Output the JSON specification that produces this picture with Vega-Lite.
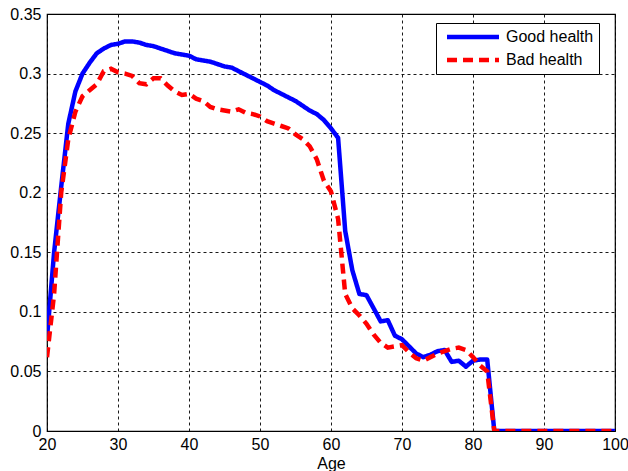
{
  "$schema": "https://vega.github.io/schema/vega-lite/v6.json",
  "width": 568,
  "height": 417,
  "autosize": {"type": "none"},
  "padding": {"left": 47, "top": 14, "right": 13, "bottom": 40},
  "background": "white",
  "config": {
    "font": "Liberation Sans",
    "view": {"stroke": "black", "strokeWidth": 1.2},
    "axis": {
      "grid": true,
      "gridColor": "black",
      "gridDash": [3, 3],
      "gridOpacity": 1,
      "gridWidth": 0.9,
      "domain": false,
      "ticks": false,
      "labelFontSize": 16,
      "labelColor": "black",
      "titleFontSize": 16,
      "titleFontWeight": "normal",
      "titleColor": "black"
    },
    "legend": {
      "orient": "none",
      "legendX": 389,
      "legendY": 9,
      "strokeColor": "black",
      "fillColor": "white",
      "padding": 5,
      "labelFontSize": 16,
      "labelColor": "black",
      "symbolType": "M-4,0H4",
      "symbolSize": 169,
      "symbolStrokeWidth": 4.5,
      "symbolOffset": 23,
      "labelOffset": 24,
      "rowPadding": 5
    }
  },
  "data": {"values": [
    {"age":20,"s":"Good health","v":0.078},{"age":21,"s":"Good health","v":0.150},{"age":22,"s":"Good health","v":0.205},{"age":23,"s":"Good health","v":0.258},{"age":24,"s":"Good health","v":0.285},{"age":25,"s":"Good health","v":0.300},{"age":26,"s":"Good health","v":0.309},{"age":27,"s":"Good health","v":0.317},{"age":28,"s":"Good health","v":0.321},{"age":29,"s":"Good health","v":0.324},
    {"age":30,"s":"Good health","v":0.325},{"age":31,"s":"Good health","v":0.327},{"age":32,"s":"Good health","v":0.327},{"age":33,"s":"Good health","v":0.326},{"age":34,"s":"Good health","v":0.324},{"age":35,"s":"Good health","v":0.323},{"age":36,"s":"Good health","v":0.321},{"age":37,"s":"Good health","v":0.319},{"age":38,"s":"Good health","v":0.317},{"age":39,"s":"Good health","v":0.316},
    {"age":40,"s":"Good health","v":0.315},{"age":41,"s":"Good health","v":0.312},{"age":42,"s":"Good health","v":0.311},{"age":43,"s":"Good health","v":0.310},{"age":44,"s":"Good health","v":0.308},{"age":45,"s":"Good health","v":0.306},{"age":46,"s":"Good health","v":0.305},{"age":47,"s":"Good health","v":0.302},{"age":48,"s":"Good health","v":0.299},{"age":49,"s":"Good health","v":0.296},
    {"age":50,"s":"Good health","v":0.293},{"age":51,"s":"Good health","v":0.290},{"age":52,"s":"Good health","v":0.286},{"age":53,"s":"Good health","v":0.283},{"age":54,"s":"Good health","v":0.280},{"age":55,"s":"Good health","v":0.277},{"age":56,"s":"Good health","v":0.273},{"age":57,"s":"Good health","v":0.269},{"age":58,"s":"Good health","v":0.266},{"age":59,"s":"Good health","v":0.261},
    {"age":60,"s":"Good health","v":0.254},{"age":61,"s":"Good health","v":0.246},{"age":62,"s":"Good health","v":0.168},{"age":63,"s":"Good health","v":0.135},{"age":64,"s":"Good health","v":0.115},{"age":65,"s":"Good health","v":0.114},{"age":66,"s":"Good health","v":0.103},{"age":67,"s":"Good health","v":0.092},{"age":68,"s":"Good health","v":0.093},{"age":69,"s":"Good health","v":0.080},
    {"age":70,"s":"Good health","v":0.077},{"age":71,"s":"Good health","v":0.071},{"age":72,"s":"Good health","v":0.065},{"age":73,"s":"Good health","v":0.062},{"age":74,"s":"Good health","v":0.064},{"age":75,"s":"Good health","v":0.067},{"age":76,"s":"Good health","v":0.068},{"age":77,"s":"Good health","v":0.058},{"age":78,"s":"Good health","v":0.059},{"age":79,"s":"Good health","v":0.054},
    {"age":80,"s":"Good health","v":0.059},{"age":81,"s":"Good health","v":0.060},{"age":82,"s":"Good health","v":0.060},{"age":83,"s":"Good health","v":0},{"age":84,"s":"Good health","v":0},{"age":85,"s":"Good health","v":0},{"age":86,"s":"Good health","v":0},{"age":87,"s":"Good health","v":0},{"age":88,"s":"Good health","v":0},{"age":89,"s":"Good health","v":0},
    {"age":90,"s":"Good health","v":0},{"age":91,"s":"Good health","v":0},{"age":92,"s":"Good health","v":0},{"age":93,"s":"Good health","v":0},{"age":94,"s":"Good health","v":0},{"age":95,"s":"Good health","v":0},{"age":96,"s":"Good health","v":0},{"age":97,"s":"Good health","v":0},{"age":98,"s":"Good health","v":0},{"age":99,"s":"Good health","v":0},{"age":100,"s":"Good health","v":0},
    {"age":20,"s":"Bad health","v":0.062},{"age":21,"s":"Bad health","v":0.115},{"age":22,"s":"Bad health","v":0.200},{"age":23,"s":"Bad health","v":0.245},{"age":24,"s":"Bad health","v":0.268},{"age":25,"s":"Bad health","v":0.281},{"age":26,"s":"Bad health","v":0.286},{"age":27,"s":"Bad health","v":0.291},{"age":28,"s":"Bad health","v":0.302},{"age":29,"s":"Bad health","v":0.304},
    {"age":30,"s":"Bad health","v":0.301},{"age":31,"s":"Bad health","v":0.300},{"age":32,"s":"Bad health","v":0.298},{"age":33,"s":"Bad health","v":0.292},{"age":34,"s":"Bad health","v":0.291},{"age":35,"s":"Bad health","v":0.296},{"age":36,"s":"Bad health","v":0.296},{"age":37,"s":"Bad health","v":0.290},{"age":38,"s":"Bad health","v":0.285},{"age":39,"s":"Bad health","v":0.282},
    {"age":40,"s":"Bad health","v":0.283},{"age":41,"s":"Bad health","v":0.279},{"age":42,"s":"Bad health","v":0.277},{"age":43,"s":"Bad health","v":0.272},{"age":44,"s":"Bad health","v":0.270},{"age":45,"s":"Bad health","v":0.269},{"age":46,"s":"Bad health","v":0.268},{"age":47,"s":"Bad health","v":0.270},{"age":48,"s":"Bad health","v":0.267},{"age":49,"s":"Bad health","v":0.266},
    {"age":50,"s":"Bad health","v":0.264},{"age":51,"s":"Bad health","v":0.260},{"age":52,"s":"Bad health","v":0.258},{"age":53,"s":"Bad health","v":0.256},{"age":54,"s":"Bad health","v":0.254},{"age":55,"s":"Bad health","v":0.249},{"age":56,"s":"Bad health","v":0.245},{"age":57,"s":"Bad health","v":0.239},{"age":58,"s":"Bad health","v":0.228},{"age":59,"s":"Bad health","v":0.210},
    {"age":60,"s":"Bad health","v":0.201},{"age":61,"s":"Bad health","v":0.178},{"age":62,"s":"Bad health","v":0.115},{"age":63,"s":"Bad health","v":0.103},{"age":64,"s":"Bad health","v":0.097},{"age":65,"s":"Bad health","v":0.090},{"age":66,"s":"Bad health","v":0.081},{"age":67,"s":"Bad health","v":0.074},{"age":68,"s":"Bad health","v":0.070},{"age":69,"s":"Bad health","v":0.071},
    {"age":70,"s":"Bad health","v":0.072},{"age":71,"s":"Bad health","v":0.066},{"age":72,"s":"Bad health","v":0.061},{"age":73,"s":"Bad health","v":0.059},{"age":74,"s":"Bad health","v":0.062},{"age":75,"s":"Bad health","v":0.065},{"age":76,"s":"Bad health","v":0.067},{"age":77,"s":"Bad health","v":0.069},{"age":78,"s":"Bad health","v":0.070},{"age":79,"s":"Bad health","v":0.068},
    {"age":80,"s":"Bad health","v":0.062},{"age":81,"s":"Bad health","v":0.055},{"age":82,"s":"Bad health","v":0.050},{"age":83,"s":"Bad health","v":0},{"age":84,"s":"Bad health","v":0},{"age":85,"s":"Bad health","v":0},{"age":86,"s":"Bad health","v":0},{"age":87,"s":"Bad health","v":0},{"age":88,"s":"Bad health","v":0},{"age":89,"s":"Bad health","v":0},
    {"age":90,"s":"Bad health","v":0},{"age":91,"s":"Bad health","v":0},{"age":92,"s":"Bad health","v":0},{"age":93,"s":"Bad health","v":0},{"age":94,"s":"Bad health","v":0},{"age":95,"s":"Bad health","v":0},{"age":96,"s":"Bad health","v":0},{"age":97,"s":"Bad health","v":0},{"age":98,"s":"Bad health","v":0},{"age":99,"s":"Bad health","v":0},{"age":100,"s":"Bad health","v":0}
  ]},
  "encoding": {
    "x": {"field": "age", "type": "quantitative", "title": "Age",
      "scale": {"domain": [20, 100], "nice": false, "zero": false},
      "axis": {"values": [20,30,40,50,60,70,80,90,100], "labelPadding": 5, "titlePadding": 3, "labelFlush": false}},
    "y": {"field": "v", "type": "quantitative", "title": null,
      "scale": {"domain": [0, 0.35], "nice": false},
      "axis": {"values": [0,0.05,0.1,0.15,0.2,0.25,0.3,0.35], "format": "~g", "labelPadding": 6, "labelFlush": false}},
    "color": {"field": "s", "type": "nominal", "title": null,
      "scale": {"domain": ["Good health", "Bad health"], "range": ["#0000ff", "#ff0000"]}},
    "strokeDash": {"field": "s", "type": "nominal", "title": null,
      "scale": {"domain": ["Good health", "Bad health"], "range": [[1, 0], [10, 6]]}}
  },
  "layer": [
    {"transform": [{"filter": "datum.s === 'Good health'"}],
     "mark": {"type": "line", "strokeWidth": 4.5, "strokeCap": "butt", "strokeJoin": "round", "clip": true}},
    {"transform": [{"filter": "datum.s === 'Bad health'"}],
     "mark": {"type": "line", "strokeWidth": 4.5, "strokeCap": "butt", "strokeJoin": "miter", "clip": true}}
  ]
}
